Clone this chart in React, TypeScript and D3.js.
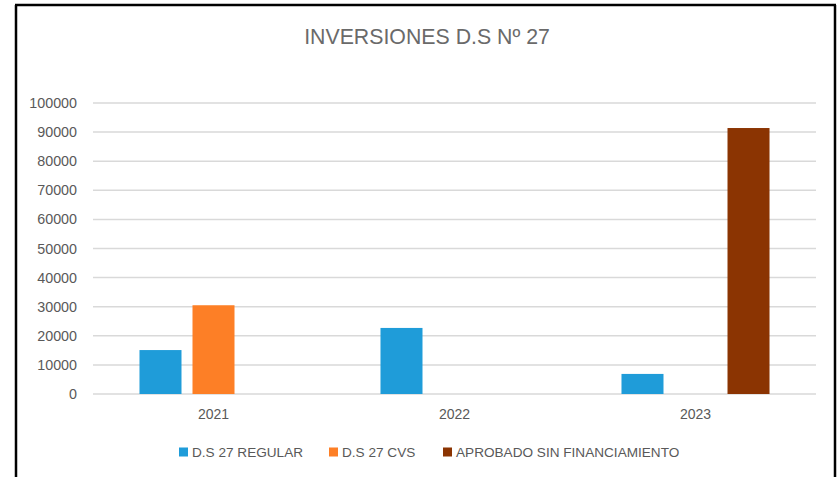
import React from "react";
import * as d3 from "d3";

// chart data
const years = ["2021", "2022", "2023"];
const seriesNames = ["D.S 27 REGULAR", "D.S 27 CVS", "APROBADO SIN FINANCIAMIENTO"];
const regular = [15100, 22700, 6900];
const cvs = [30500, 0, 0];
const sinFinanciamiento = [0, 0, 91400];
const yTicks = [0, 10000, 20000, 30000, 40000, 50000, 60000, 70000, 80000, 90000, 100000];
const colors = ["#1f9cd9", "#fd7f26", "#8b3402"];

const W = 839;
const H = 477;
const FONT = "'Liberation Sans', Arial, sans-serif";

const App = () => {
    const values = [regular, cvs, sinFinanciamiento];

    const x = d3.scaleBand().domain(years).range([93, 816]).padding(0);
    const xs = d3
        .scaleBand()
        .domain(seriesNames)
        .range([0, x.bandwidth()])
        .paddingInner(0.2075)
        .paddingOuter(0.877);
    const y = d3.scaleLinear().domain([0, 100000]).range([394, 103]);

    return (
        <div style={{ position: "absolute", left: 0, top: 0 }}>
            <svg width={W} height={H} style={{ display: "block", background: "#fff" }}>
                {/* frame */}
                <line x1={16} y1={5} x2={16} y2={H} stroke="#000" strokeWidth={2.5} />
                <line x1={15} y1={5} x2={836} y2={5} stroke="#000" strokeWidth={2.5} />
                <line x1={835} y1={5} x2={835} y2={H} stroke="#000" strokeWidth={2.5} />

                <text
                    x={427}
                    y={44}
                    textAnchor="middle"
                    fill="#6a6a6a"
                    style={{ fontFamily: FONT, fontSize: 21.3 }}
                >
                    INVERSIONES D.S Nº 27
                </text>

                {/* gridlines + y labels */}
                {yTicks.map(t => (
                    <g key={t}>
                        <line x1={93} x2={816} y1={y(t)} y2={y(t)} stroke="#d9d9d9" strokeWidth={1.5} />
                        <text
                            x={77}
                            y={y(t)}
                            dy="0.35em"
                            textAnchor="end"
                            fill="#595959"
                            style={{ fontFamily: FONT, fontSize: 14.3 }}
                        >
                            {t}
                        </text>
                    </g>
                ))}

                {/* bars */}
                {years.map((yr, i) => (
                    <g key={yr} transform={`translate(${x(yr)},0)`}>
                        {seriesNames.map((s, j) =>
                            values[j][i] > 0 ? (
                                <rect
                                    key={s}
                                    x={xs(s)}
                                    y={y(values[j][i])}
                                    width={xs.bandwidth()}
                                    height={y(0) - y(values[j][i])}
                                    fill={colors[j]}
                                />
                            ) : null
                        )}
                        <text
                            x={x.bandwidth() / 2}
                            y={419}
                            textAnchor="middle"
                            fill="#595959"
                            style={{ fontFamily: FONT, fontSize: 14 }}
                        >
                            {yr}
                        </text>
                    </g>
                ))}

                {/* legend */}
                {seriesNames.map((s, j) => {
                    const lx = [179, 329, 443][j];
                    return (
                        <g key={s} transform={`translate(${lx},452)`}>
                            <rect x={0} y={-4.5} width={9} height={9} fill={colors[j]} />
                            <text
                                x={13}
                                y={0}
                                dy="0.35em"
                                fill="#595959"
                                style={{ fontFamily: FONT, fontSize: 13.6 }}
                            >
                                {s}
                            </text>
                        </g>
                    );
                })}
            </svg>
        </div>
    );
};

export default App;
